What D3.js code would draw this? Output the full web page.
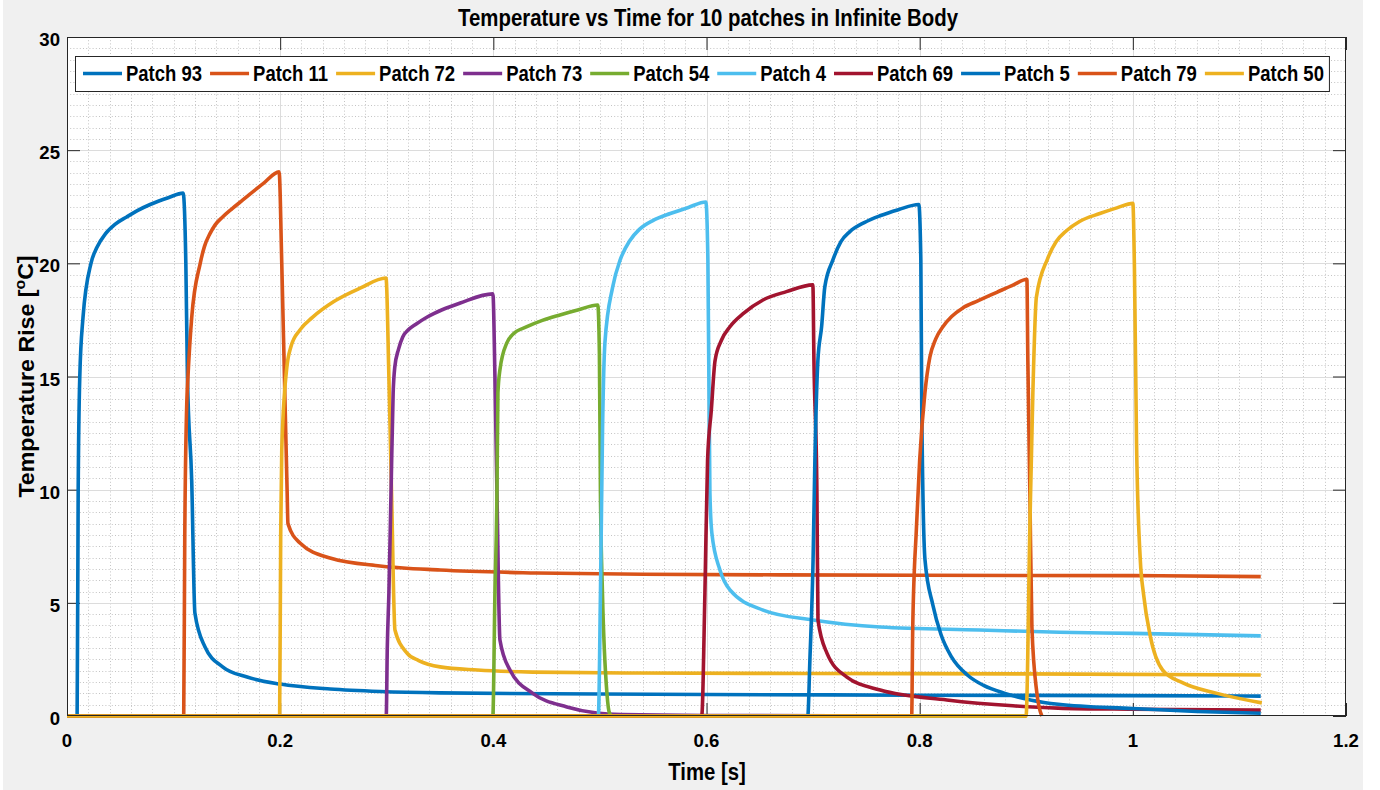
<!DOCTYPE html>
<html><head><meta charset="utf-8">
<script src="https://cdn.jsdelivr.net/npm/d3@7/dist/d3.min.js"></script>
<style>html,body{margin:0;padding:0;background:#fff;}svg{display:block;}</style>
</head><body><svg id="c" width="1380" height="790"></svg>
<script>
// ---------- data ----------
const titleText = "Temperature vs Time for 10 patches in Infinite Body";
const xLabel = "Time [s]";
const seriesNames = ["Patch 93","Patch 11","Patch 72","Patch 73","Patch 54","Patch 4","Patch 69","Patch 5","Patch 79","Patch 50"];
const seriesColors = ["#0072BD","#D95319","#EDB120","#7E2F8E","#77AC30","#4DBEEE","#A2142F","#0072BD","#D95319","#EDB120"];
const xTicks = [0,0.2,0.4,0.6,0.8,1,1.2];
const xTickLabels = ["0","0.2","0.4","0.6","0.8","1","1.2"];
const yTicks = [0,5,10,15,20,25,30];
const yTickLabels = ["0","5","10","15","20","25","30"];

const p93 = [[0,0],[0.0095,0],[0.0105,10],[0.012,15],[0.015,17.6],[0.0225,20],[0.028,20.7],[0.036,21.3],[0.045,21.72],[0.056,22.05],[0.066,22.33],[0.078,22.6],[0.095,22.9],[0.109,23.1],[0.1115,20],[0.113,15],[0.117,10.4],[0.12,4.55],[0.1295,3.05],[0.146,2.17],[0.169,1.72],[0.2,1.41],[0.247,1.19],[0.294,1.08],[0.35,1.02],[0.5,0.97],[0.6,0.95],[0.8,0.92],[1.0,0.9],[1.12,0.88]];
const p11 = [[0,0],[0.1095,0],[0.1105,8],[0.1125,14],[0.1135,15],[0.117,17.6],[0.125,20],[0.129,20.75],[0.134,21.3],[0.139,21.7],[0.146,22.05],[0.155,22.42],[0.165,22.8],[0.184,23.52],[0.199,24.04],[0.2015,20],[0.204,15],[0.2065,10],[0.2073,8.5],[0.2186,7.64],[0.2467,6.98],[0.2936,6.63],[0.35,6.45],[0.44,6.32],[0.54,6.26],[0.8,6.22],[1.0,6.2],[1.12,6.16]];
const p72 = [[0,0],[0.1995,0],[0.2005,8],[0.2015,11.75],[0.206,15.3],[0.21,16.3],[0.2186,17.06],[0.23,17.6],[0.25,18.3],[0.275,18.9],[0.2993,19.35],[0.302,15],[0.3045,9.85],[0.3077,3.8],[0.319,2.78],[0.33,2.45],[0.35,2.17],[0.385,2.03],[0.437,1.94],[0.537,1.9],[0.7,1.88],[0.9,1.86],[1.12,1.81]];
const p73 = [[0,0],[0.2995,0],[0.3005,3],[0.302,5.4],[0.304,9.85],[0.306,14.27],[0.3075,15.4],[0.311,16.2],[0.315,16.75],[0.32,17.05],[0.327,17.3],[0.338,17.63],[0.352,17.95],[0.369,18.25],[0.3996,18.65],[0.4015,15],[0.4034,9.85],[0.4062,3.36],[0.4156,2.03],[0.437,1.0],[0.469,0.4],[0.497,0.13],[0.52,0.06],[0.6,0.02],[0.9,0]];
const p54 = [[0,0],[0.3995,0],[0.4015,5.4],[0.4034,9.85],[0.4043,14.27],[0.4062,15.3],[0.4128,16.5],[0.418,16.85],[0.4315,17.2],[0.446,17.48],[0.4625,17.72],[0.48,17.95],[0.498,18.16],[0.4995,16.04],[0.5005,9.85],[0.5024,5.4],[0.5066,1.0],[0.509,0.13],[0.512,0],[0.9,0]];
const p4 = [[0,0],[0.4985,0],[0.5005,5.4],[0.5025,12.77],[0.5047,16.5],[0.512,18.96],[0.519,20.15],[0.528,21.0],[0.537,21.5],[0.55,21.9],[0.566,22.2],[0.583,22.47],[0.5994,22.71],[0.6013,20.15],[0.6032,9.85],[0.605,8.09],[0.6126,6.45],[0.622,5.57],[0.653,4.68],[0.7,4.24],[0.763,3.93],[0.856,3.8],[0.931,3.7],[1.0,3.65],[1.12,3.54]];
const p69 = [[0,0],[0.5955,0],[0.5985,5.4],[0.601,11.3],[0.6045,13.5],[0.608,15.7],[0.614,16.6],[0.622,17.2],[0.635,17.8],[0.653,18.38],[0.675,18.75],[0.6998,19.05],[0.7008,15.7],[0.7036,9.85],[0.7046,4.24],[0.713,2.78],[0.7317,1.72],[0.763,1.15],[0.8255,0.71],[0.8875,0.45],[0.93,0.35],[1.0,0.3],[1.12,0.26]];
const p5 = [[0,0],[0.695,0],[0.697,2.47],[0.7,6.9],[0.7017,11.3],[0.7045,15.7],[0.708,17.2],[0.711,18.96],[0.7186,20.15],[0.726,20.95],[0.7345,21.4],[0.748,21.8],[0.7627,22.1],[0.78,22.37],[0.7992,22.6],[0.8011,20.15],[0.802,13.4],[0.805,6.9],[0.8124,4.9],[0.82,3.6],[0.83,2.6],[0.845,1.8],[0.86,1.35],[0.88,1.0],[0.905,0.7],[0.93,0.52],[1.0,0.33],[1.06,0.2],[1.12,0.12]];
const p79 = [[0,0],[0.7925,0],[0.7935,3.93],[0.797,8.35],[0.8,11.3],[0.8049,14.27],[0.8096,15.86],[0.815,16.65],[0.8218,17.2],[0.83,17.65],[0.8405,18.03],[0.855,18.35],[0.8724,18.72],[0.888,19.05],[0.9006,19.3],[0.9015,15.7],[0.9034,9.85],[0.9053,3.93],[0.91,1.0],[0.9146,0]];
const p50 = [[0,0],[0.8998,0],[0.9034,8.35],[0.9062,14.27],[0.9095,18.5],[0.92,20.2],[0.928,20.95],[0.938,21.45],[0.95,21.85],[0.969,22.2],[0.985,22.45],[1.0,22.65],[1.0015,19.8],[1.0035,12],[1.007,6.9],[1.01,5.4],[1.0165,3.5],[1.028,2.03],[1.047,1.46],[1.079,1.0],[1.121,0.58]];
const seriesData = [p93,p11,p72,p73,p54,p4,p69,p5,p79,p50];

// ---------- layout ----------
const svg = d3.select("#c");
const L = 67, R = 1346, T = 37, B = 716;
const x = d3.scaleLinear().domain([0,1.2]).range([L,R]);
const y = d3.scaleLinear().domain([0,30]).range([B,T]);
const FONT = "'Liberation Sans', Arial, Helvetica, sans-serif";
const axisCol = "#262626";

svg.append("rect").attr("x",3).attr("y",0).attr("width",1360).attr("height",790).attr("fill","#f0f0f0");
svg.append("rect").attr("x",L).attr("y",T).attr("width",R-L).attr("height",B-T).attr("fill","#fff");

// minor grid
const gMinor = svg.append("g").attr("stroke","#c4c4c4").attr("stroke-width",1).attr("stroke-dasharray","1,2.2");
gMinor.selectAll("line.mx").data(d3.range(0,1.2001,0.02).filter(v=>Math.abs(v*5-Math.round(v*5))>1e-6))
  .join("line").attr("x1",d=>Math.round(x(d))+0.5).attr("x2",d=>Math.round(x(d))+0.5).attr("y1",T).attr("y2",B);
gMinor.selectAll("line.my").data(d3.range(0,30.001,0.5).filter(v=>Math.abs(v/5-Math.round(v/5))>1e-6))
  .join("line").attr("y1",d=>Math.round(y(d))+0.5).attr("y2",d=>Math.round(y(d))+0.5).attr("x1",L).attr("x2",R);
// major grid
const gMajor = svg.append("g").attr("stroke","#dcdcdc").attr("stroke-width",1);
gMajor.selectAll("line.gx").data(xTicks.slice(1,-1)).join("line")
  .attr("x1",d=>Math.round(x(d))+0.5).attr("x2",d=>Math.round(x(d))+0.5).attr("y1",T).attr("y2",B);
gMajor.selectAll("line.gy").data(yTicks.slice(1,-1)).join("line")
  .attr("y1",d=>Math.round(y(d))+0.5).attr("y2",d=>Math.round(y(d))+0.5).attr("x1",L).attr("x2",R);

// axes (D3 axes, inward ticks, both sides)
const tickLen = 13;
function styleAxis(g){ g.select(".domain").remove(); g.selectAll(".tick line").attr("stroke",axisCol).attr("stroke-width",1); g.selectAll("text").remove(); }
svg.append("g").attr("transform",`translate(0,${B})`).call(d3.axisBottom(x).tickValues(xTicks).tickSize(-tickLen)).call(styleAxis);
svg.append("g").attr("transform",`translate(0,${T})`).call(d3.axisTop(x).tickValues(xTicks).tickSize(-tickLen)).call(styleAxis);
svg.append("g").attr("transform",`translate(${L},0)`).call(d3.axisLeft(y).tickValues(yTicks).tickSize(-tickLen)).call(styleAxis);
svg.append("g").attr("transform",`translate(${R},0)`).call(d3.axisRight(y).tickValues(yTicks).tickSize(-tickLen)).call(styleAxis);

// series
const line = d3.line().x(d=>x(d[0])).y(d=>y(d[1])).curve(d3.curveMonotoneX);
const gS = svg.append("g").attr("fill","none").attr("stroke-width",3.6).attr("stroke-linejoin","round").attr("stroke-linecap","butt");
seriesData.forEach((data,i)=>{
  gS.append("path").datum(data).attr("d",line).attr("stroke",seriesColors[i]);
});

// box
svg.append("rect").attr("x",L+0.5).attr("y",T+0.5).attr("width",R-L-1).attr("height",B-T-1)
  .attr("fill","none").attr("stroke",axisCol).attr("stroke-width",1);

// tick labels
const gL = svg.append("g").attr("font-family",FONT).attr("font-weight","bold").attr("font-size",18.6).attr("fill","#000");
gL.selectAll("text.xl").data(xTicks).join("text").attr("x",d=>x(d)).attr("y",B+31).attr("text-anchor","middle").text((d,i)=>xTickLabels[i]);
gL.selectAll("text.yl").data(yTicks).join("text").attr("x",L-7).attr("y",d=>y(d)+9).attr("text-anchor","end").text((d,i)=>yTickLabels[i]);

// title & labels (slightly stretched vertically like the reference)
svg.append("text").attr("transform","translate(708,26) scale(1,1.2)").attr("text-anchor","middle")
  .attr("font-family",FONT).attr("font-weight","bold").attr("font-size",20.4).attr("fill","#000").text(titleText);
svg.append("text").attr("transform","translate(707,780) scale(1,1.19)").attr("text-anchor","middle")
  .attr("font-family",FONT).attr("font-weight","bold").attr("font-size",20.3).attr("fill","#000").text(xLabel);
const yl = svg.append("text").attr("transform",`translate(33.5,${(T+B)/2}) rotate(-90) scale(1.03,1)`).attr("text-anchor","middle")
  .attr("font-family",FONT).attr("font-weight","bold").attr("font-size",22.5).attr("fill","#000");
yl.append("tspan").text("Temperature Rise [");
yl.append("tspan").attr("font-size","0.68em").attr("dy","-0.55em").text("o");
yl.append("tspan").attr("dy","0.37em").text("C]");

// legend
const lg = svg.append("g");
const lgBox = lg.append("rect").attr("fill","#fff").attr("stroke",axisCol).attr("stroke-width",1);
const lgX0 = 75, lgY0 = 56, lgH = 35;
let cx = lgX0 + 8;
seriesNames.forEach((n,i)=>{
  lg.append("line").attr("x1",cx).attr("x2",cx+39).attr("y1",lgY0+lgH/2).attr("y2",lgY0+lgH/2)
    .attr("stroke",seriesColors[i]).attr("stroke-width",3.6);
  const t = lg.append("text").attr("transform",`translate(${cx+43},${lgY0+25}) scale(1,1.15)`)
    .attr("font-family",FONT).attr("font-weight","bold").attr("font-size",18.5).attr("fill","#000").text(n);
  const w = t.node().getComputedTextLength();
  cx += 43 + w + 8;
});
lgBox.attr("x",lgX0+0.5).attr("y",lgY0+0.5).attr("width",cx - 8 + 5 - lgX0).attr("height",lgH);
</script></body></html>
